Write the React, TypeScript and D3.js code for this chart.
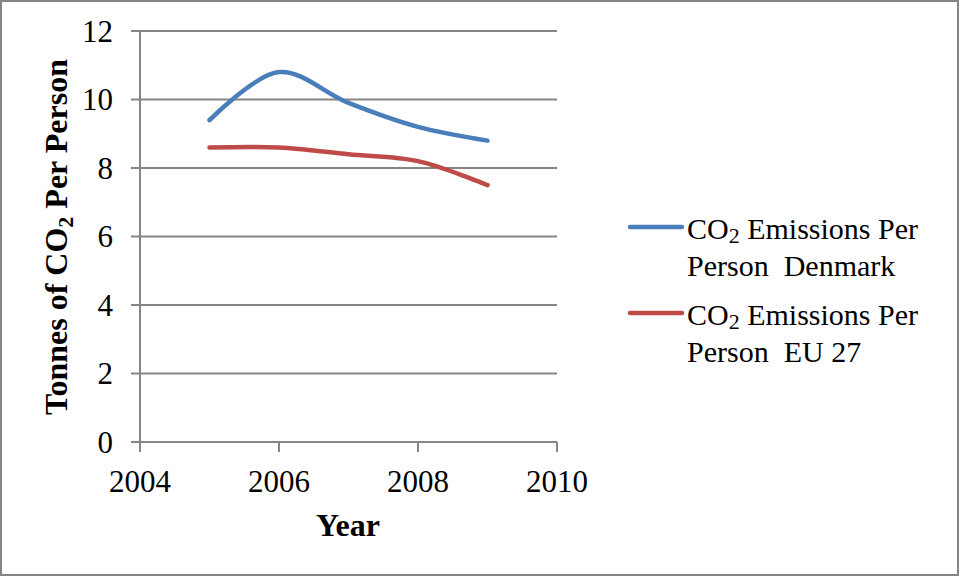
import React from "react";
import * as d3 from "d3";

const years = [2005, 2006, 2007, 2008, 2009];
const denmark = [9.4, 10.8, 9.9, 9.2, 8.8];
const eu27 = [8.6, 8.6, 8.4, 8.2, 7.5];
const xTicks = [2004, 2006, 2008, 2010];
const yTicks = [0, 2, 4, 6, 8, 10, 12];
const seriesNames = ["Denmark", "EU 27"];
const seriesColors = ["#4A7EBB", "#BE4B48"];

const W = 961;
const H = 577;
const FONT = "Liberation Serif, Times New Roman, Nimbus Roman, FreeSerif, serif";

export default function App() {
  const x = d3.scaleLinear().domain([2004, 2010]).range([140, 557]);
  const y = d3.scaleLinear().domain([0, 12]).range([442, 31]);
  const line = d3
    .line<[number, number]>()
    .x((d) => x(d[0]))
    .y((d) => y(d[1]))
    .curve(d3.curveCatmullRom.alpha(0.5));
  const series = [denmark, eu27];
  const legendY = [227, 313];
  const ts = { fontFamily: FONT, fontWeight: 400 } as React.CSSProperties;
  const tb = { fontFamily: FONT, fontWeight: 700 } as React.CSSProperties;

  return (
    <svg
      width={W}
      height={H}
      style={{ position: "absolute", left: 0, top: 0, display: "block" }}
    >
      <rect x={0} y={0} width={W} height={H} fill="#fff" />
      <rect x={1} y={1} width={957} height={574} fill="none" stroke="#868686" strokeWidth={2} />
      {yTicks.map((t) => (
        <g key={"y" + t}>
          <line x1={131} x2={557} y1={y(t)} y2={y(t)} stroke="#868686" strokeWidth={2} />
          <text x={113} y={y(t)} dy="0.35em" textAnchor="end" fontSize={31} fill="#000" style={ts}>
            {t}
          </text>
        </g>
      ))}
      <line x1={140} x2={140} y1={y(12)} y2={452} stroke="#868686" strokeWidth={2} />
      {xTicks.map((t) => (
        <g key={"x" + t}>
          <line x1={x(t)} x2={x(t)} y1={442} y2={452} stroke="#868686" strokeWidth={2} />
          <text x={x(t)} y={492} textAnchor="middle" fontSize={31} fill="#000" style={ts}>
            {t}
          </text>
        </g>
      ))}
      {series.map((vals, i) => (
        <path
          key={"s" + i}
          d={line(years.map((yr, j) => [yr, vals[j]] as [number, number])) || ""}
          fill="none"
          stroke={seriesColors[i]}
          strokeWidth={4.5}
          strokeLinecap="round"
        />
      ))}
      <text x={348} y={536} textAnchor="middle" fontSize={32} fill="#000" style={tb}>
        Year
      </text>
      <text
        transform="translate(67,237) rotate(-90)"
        textAnchor="middle"
        fontSize={32}
        fill="#000"
        style={tb}
      >
        Tonnes of CO<tspan fontSize={22} dy={6}>2</tspan>
        <tspan dy={-6}> Per Person</tspan>
      </text>
      {seriesNames.map((name, i) => (
        <g key={"l" + i}>
          <line
            x1={630}
            x2={682}
            y1={legendY[i]}
            y2={legendY[i]}
            stroke={seriesColors[i]}
            strokeWidth={4.5}
            strokeLinecap="round"
          />
          <text x={687} y={legendY[i] + 12} fontSize={30} fill="#000" style={ts}>
            CO<tspan fontSize={22} dy={4}>2</tspan>
            <tspan dy={-4}> Emissions Per</tspan>
          </text>
          <text x={687} y={legendY[i] + 49} fontSize={30} fill="#000" style={ts}>
            {"Person\u00a0 " + name}
          </text>
        </g>
      ))}
    </svg>
  );
}
